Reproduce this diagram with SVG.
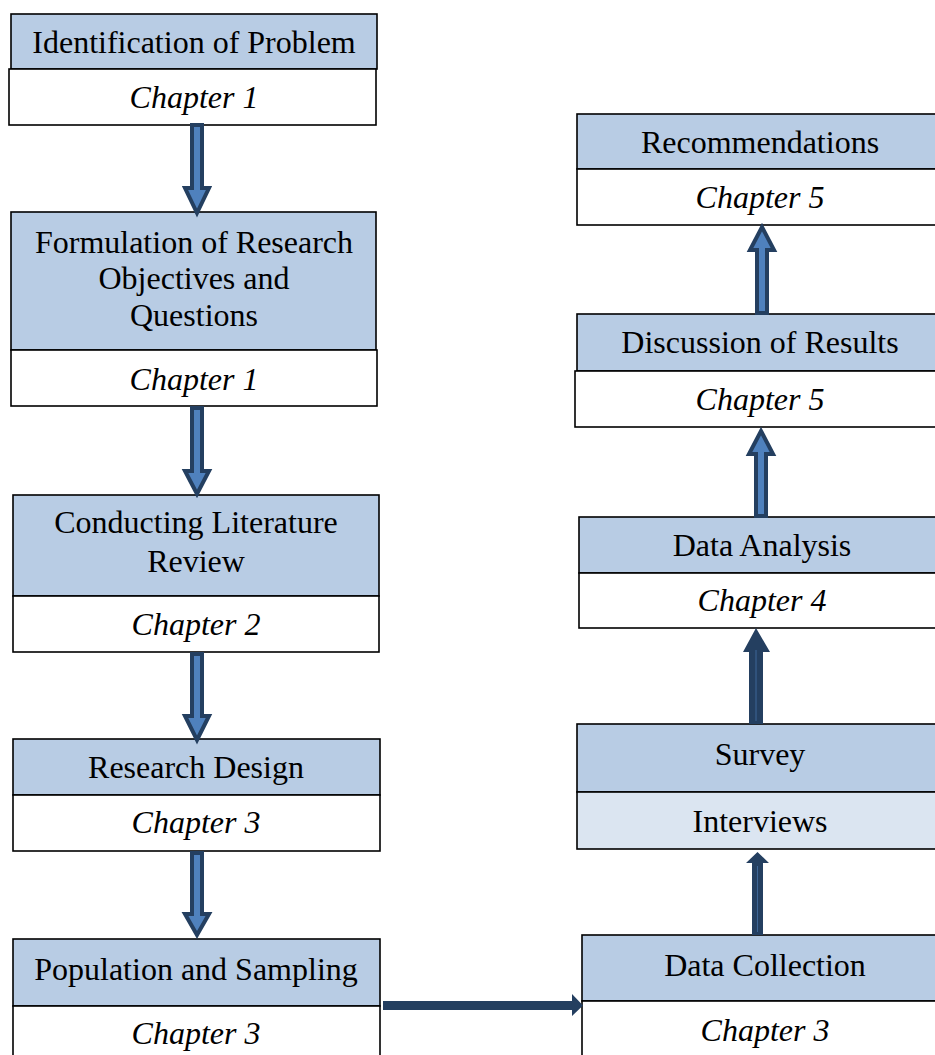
<svg xmlns="http://www.w3.org/2000/svg" width="935" height="1055" viewBox="0 0 935 1055">
<style>
.hd{fill:#B8CCE4;stroke:#000;stroke-width:1.6}
.wt{fill:#FFFFFF;stroke:#000;stroke-width:1.6}
.lt{fill:#DBE5F1;stroke:#000;stroke-width:1.6}
.t{font-family:"Liberation Serif","Times New Roman",serif;font-size:32px;fill:#000;text-anchor:middle}
.i{font-style:italic}
.dbl{fill:#4F81BD;stroke:#243F60;stroke-width:4;stroke-linejoin:miter}
.sol{fill:#243F60;stroke:none}
.inl{stroke:#4F81BD;stroke-width:1;opacity:0.6}
</style>
<rect width="935" height="1055" fill="#FFFFFF"/>
<g id="n1">
<rect class="hd" x="11" y="14" width="366" height="55"/>
<rect class="wt" x="9" y="69" width="367" height="56"/>
<text class="t" x="194" y="53">Identification of Problem</text>
<text class="t i" x="194" y="108">Chapter 1</text>
</g>
<g id="n2">
<rect class="hd" x="11" y="212" width="365" height="138"/>
<rect class="wt" x="11" y="350" width="366" height="56"/>
<text class="t" x="194" y="253">Formulation of Research</text>
<text class="t" x="194" y="289">Objectives and</text>
<text class="t" x="194" y="326">Questions</text>
<text class="t i" x="194" y="390">Chapter 1</text>
</g>
<g id="n3">
<rect class="hd" x="13" y="495" width="366" height="101"/>
<rect class="wt" x="13" y="596" width="366" height="56"/>
<text class="t" x="196" y="533">Conducting Literature</text>
<text class="t" x="196" y="572">Review</text>
<text class="t i" x="196" y="635">Chapter 2</text>
</g>
<g id="n4">
<rect class="hd" x="13" y="739" width="367" height="56"/>
<rect class="wt" x="13" y="795" width="367" height="56"/>
<text class="t" x="196" y="778">Research Design</text>
<text class="t i" x="196" y="833">Chapter 3</text>
</g>
<g id="n5">
<rect class="hd" x="13" y="939" width="367" height="67"/>
<rect class="wt" x="13" y="1006" width="367" height="60"/>
<text class="t" x="196" y="980">Population and Sampling</text>
<text class="t i" x="196" y="1044">Chapter 3</text>
</g>
<g id="n6">
<rect class="hd" x="582" y="935" width="366" height="66"/>
<rect class="wt" x="582" y="1001" width="366" height="65"/>
<text class="t" x="765" y="976">Data Collection</text>
<text class="t i" x="765" y="1041">Chapter 3</text>
</g>
<g id="n7">
<rect class="hd" x="577" y="724" width="366" height="68"/>
<rect class="lt" x="577" y="792" width="366" height="57"/>
<text class="t" x="760" y="765">Survey</text>
<text class="t" x="760" y="832">Interviews</text>
</g>
<g id="n8">
<rect class="hd" x="579" y="517" width="366" height="56"/>
<rect class="wt" x="579" y="573" width="366" height="55"/>
<text class="t" x="762" y="556">Data Analysis</text>
<text class="t i" x="762" y="611">Chapter 4</text>
</g>
<g id="n9">
<rect class="hd" x="577" y="314" width="366" height="57"/>
<rect class="wt" x="575" y="371" width="368" height="56"/>
<text class="t" x="760" y="353">Discussion of Results</text>
<text class="t i" x="760" y="410">Chapter 5</text>
</g>
<g id="n10">
<rect class="hd" x="577" y="114" width="366" height="55"/>
<rect class="wt" x="577" y="169" width="366" height="56"/>
<text class="t" x="760" y="153">Recommendations</text>
<text class="t i" x="760" y="208">Chapter 5</text>
</g>
<g id="connectors">
<path class="dbl" d="M192,125 L202,125 L202,188 L209,188 L197,213 L185,188 L192,188 Z"/>
<path class="dbl" d="M192,408 L202,408 L202,471 L209,471 L197,494 L185,471 L192,471 Z"/>
<path class="dbl" d="M192,654 L202,654 L202,716 L209,716 L197,740 L185,716 L192,716 Z"/>
<path class="dbl" d="M192,853 L202,853 L202,914 L209,914 L197,935 L185,914 L192,914 Z"/>
<path class="sol" d="M383,1001 L572,1001 L572,994 L583,1005.5 L572,1016 L572,1010 L383,1010 Z"/>
<path class="sol" d="M752,935 L752,863 L746,863 L757.5,852 L769,863 L763,863 L763,935 Z"/>
<line class="inl" x1="757.5" y1="866" x2="757.5" y2="932"/>
<path class="sol" d="M749,724 L749,652 L743,652 L756,628 L770,652 L763,652 L763,724 Z"/>
<line class="inl" x1="756" y1="650" x2="756" y2="721"/>
<path class="dbl" d="M756,516 L756,454 L749,454 L761,431 L773,454 L766,454 L766,516 Z"/>
<path class="dbl" d="M757,313 L757,250 L750,250 L762,227 L774,250 L767,250 L767,313 Z"/>
</g>
</svg>
